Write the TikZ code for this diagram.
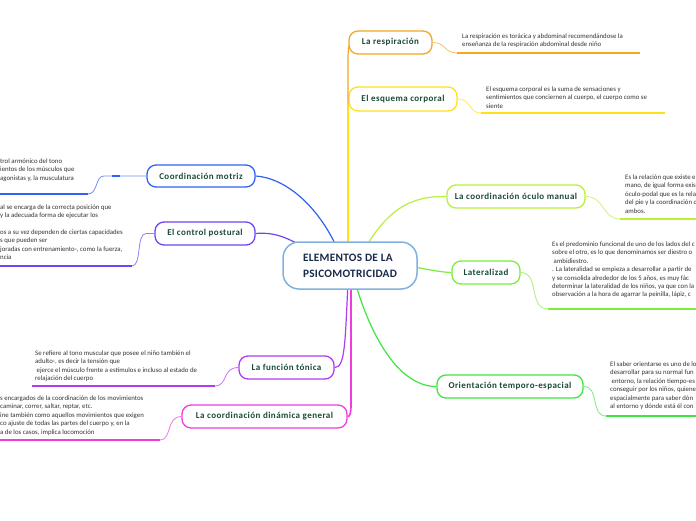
\documentclass[tikz,border=0pt]{standalone}
\usepackage{fontspec}
\setmainfont{Carlito}
\definecolor{lbl}{HTML}{1B4A38}
\definecolor{txt}{HTML}{333333}
\definecolor{cblue}{HTML}{7FB2E0}
\definecolor{ctitle}{HTML}{1A2A4A}
\definecolor{corange}{HTML}{F5A623}
\definecolor{cyellow}{HTML}{FFE01A}
\definecolor{coculo}{HTML}{B8F03C}
\definecolor{clat}{HTML}{7CEE3C}
\definecolor{cori}{HTML}{40E640}
\definecolor{cmot}{HTML}{2F62F5}
\definecolor{cpos}{HTML}{6E45F0}
\definecolor{cton}{HTML}{B03CF0}
\definecolor{cdin}{HTML}{F03CDC}
\tikzset{
  topic/.style={draw=#1, line width=1.3pt, rounded corners=9pt, fill=white, inner sep=0pt,
    text=lbl, font=\fontsize{9}{10}\selectfont\bfseries\addfontfeature{LetterSpace=5}, align=center},
  conn/.style={draw=#1, line width=1.2pt},
  thin/.style={draw=#1!70, line width=0.8pt},
  uline/.style={draw=#1, line width=2pt},
  detail/.style={anchor=north west, inner sep=0pt, align=left, text=txt,
    font=\fontsize{6.8}{8.4}\selectfont},
}
\begin{document}
\begin{tikzpicture}[x=1pt,y=-1pt]
\useasboundingbox (0,0) rectangle (696,520);
\fill[white] (0,0) rectangle (696,520);

% topic nodes
\node[topic=corange, minimum width=83pt, minimum height=23pt] (resp) at (390.5,42.5) {La respiración};
\node[topic=cyellow, minimum width=108pt, minimum height=24pt] (esq) at (403,99) {El esquema corporal};
\node[topic=coculo, minimum width=138pt, minimum height=23pt] (ocu) at (516,196.5) {La coordinación óculo manual};
\node[topic=clat, minimum width=68pt, minimum height=23pt] (lat) at (486,272.5) {Lateralizad};
\node[topic=cori, minimum width=146pt, minimum height=23pt] (ori) at (510,386.5) {Orientación temporo-espacial};
\node[topic=cmot, minimum width=108pt, minimum height=22pt] (mot) at (201,176) {Coordinación motriz};
\node[topic=cpos, minimum width=100pt, minimum height=23pt] (pos) at (205,233.5) {El control postural};
\node[topic=cton, minimum width=95pt, minimum height=23pt] (ton) at (286.5,367.5) {La función tónica};
\node[topic=cdin, minimum width=165pt, minimum height=23pt] (din) at (264.5,416.5) {La coordinación dinámica general};

% central connectors (drawn first, center node on top)
\coordinate (cN1) at (348,250);
\draw[conn=corange] (cN1) -- (348,58) .. controls (348,50) and (349,46) .. (resp.west |- 0,48);
\draw[conn=cyellow, line width=1.6pt] (cN1) -- (348,110) .. controls (348,104) and (349,102) .. (esq.west |- 0,104);
\draw[conn=coculo] (364,250) .. controls (390,205) and (415,196) .. (ocu.west);
\draw[conn=clat] (410,266) .. controls (430,270) and (440,272) .. (lat.west);
\draw[conn=cori] (355,282) .. controls (372,340) and (400,386.5) .. (ori.west);
\draw[conn=cmot] (338,250) .. controls (318,205) and (285,178) .. (mot.east);
\draw[conn=cpos] (305,248) .. controls (285,236) and (272,232) .. (pos.east);
\draw[conn=cton] (348,282) .. controls (345,345) and (345,367.5) .. (ton.east);
\draw[conn=cdin, line width=1.6pt] (351,282) -- (351,405) .. controls (351,413) and (350,416.5) .. (din.east);

% central node
\node[draw=cblue, line width=1.5pt, rounded corners=16pt, fill=white, minimum width=134pt,
  minimum height=47pt, inner sep=0pt, align=left, text=ctitle,
  font=\fontsize{11.3}{16}\selectfont\bfseries\addfontfeature{LetterSpace=2.5}] (center) at (350,265.5)
  {ELEMENTOS DE LA\\PSICOMOTRICIDAD};

% detail connectors and underlines
\draw[thin=corange] (resp.east) .. controls (446,42.5) and (444,53) .. (457,53);
\draw[uline=corange] (457,53) -- (640,53);
\draw[thin=cyellow] (esq.east) .. controls (472,99) and (468,113) .. (481,113);
\draw[uline=cyellow] (481,113) -- (665,113);
\draw[thin=coculo] (ocu.east) .. controls (605,196.5) and (602,219) .. (620,219);
\draw[uline=coculo] (620,219) -- (696,219);
\draw[thin=clat] (lat.east) .. controls (540,272.5) and (528,309) .. (548,309);
\draw[uline=clat] (548,309) -- (696,309);
\draw[thin=cori] (ori.east) .. controls (600,386.5) and (590,416) .. (606,416);
\draw[uline=cori] (606,416) -- (696,416);

\draw[thin=cmot] (mot.west) -- (104,176) .. controls (95,176) and (98,194) .. (88,194);
\draw[cmot, line width=1.5pt] (112,176) -- (120,176);
\draw[uline=cmot] (88,194) -- (0,194);
\draw[thin=cpos] (pos.west) -- (146,233.5) .. controls (136,233.5) and (142,266) .. (132,266);
\draw[uline=cpos] (132,266) -- (0,266);
\draw[thin=cton] (ton.west) .. controls (222,367.5) and (228,386) .. (215,386);
\draw[uline=cton] (215,386) -- (32,386);
\draw[thin=cdin] (din.west) .. controls (166,416.5) and (172,440) .. (160,440);
\draw[uline=cdin] (160,440) -- (0,440);

% detail texts
\node[detail] (tresp) at (462,33.5) {La respiración es torácica y abdominal recomendándose la\\enseñanza de la respiración abdominal desde niño};
\node[detail] (tesq) at (486,86.5) {El esquema corporal es la suma de sensaciones y\\sentimientos que conciernen al cuerpo, el cuerpo como se\\siente};
\node[detail] (tocu) at (625,174.5) {Es la relación que existe e\\mano, de igual forma exis\\óculo-podal que es la rela\\del pie y la coordinación c\\ambos.};
\node[detail] (tlat) at (552,241.5) {Es el predominio funcional de uno de los lados del c\\sobre el otro, es lo que denominamos ser diestro o\\\ ambidiestro.\\. La lateralidad se empieza a desarrollar a partir de\\y se consolida alrededor de los 5 años, es muy fác\\determinar la lateralidad de los niños, ya que con la\\observación a la hora de agarrar la peinilla, lápiz, c};
\node[detail] (tori) at (610,361.5) {El saber orientarse es uno de lo\\desarrollar para su normal fun\\\ entorno, la relación tiempo-es\\conseguir por los niños, quiene\\espacialmente para saber dón\\al entorno y dónde está él con};
\node[detail] (tmot) at (0,158.5) {trol armónico del tono\\ientos de los músculos que\\agonistas y, la musculatura};
\node[detail] (tpos1) at (0,204.5) {al se encarga de la correcta posición que\\ y la adecuada forma de ejecutar los};
\node[detail] (tpos2) at (0,229.5) {os a su vez dependen de ciertas capacidades\\s que pueden ser\\joradas con entrenamiento-, como la fuerza,\\ncia};
\node[detail] (tton) at (35,350.5) {Se refiere al tono muscular que posee el niño también el\\adulto-, es decir la tensión que\\\ ejerce el músculo frente a estímulos e incluso al estado de\\relajación del cuerpo};
\node[detail] (tdin) at (0,395.5) {s encargados de la coordinación de los movimientos\\ caminar, correr, saltar, reptar, etc.\\ine también como aquellos movimientos que exigen\\co ajuste de todas las partes del cuerpo y, en la\\a de los casos, implica locomoción};
\end{tikzpicture}
\end{document}
